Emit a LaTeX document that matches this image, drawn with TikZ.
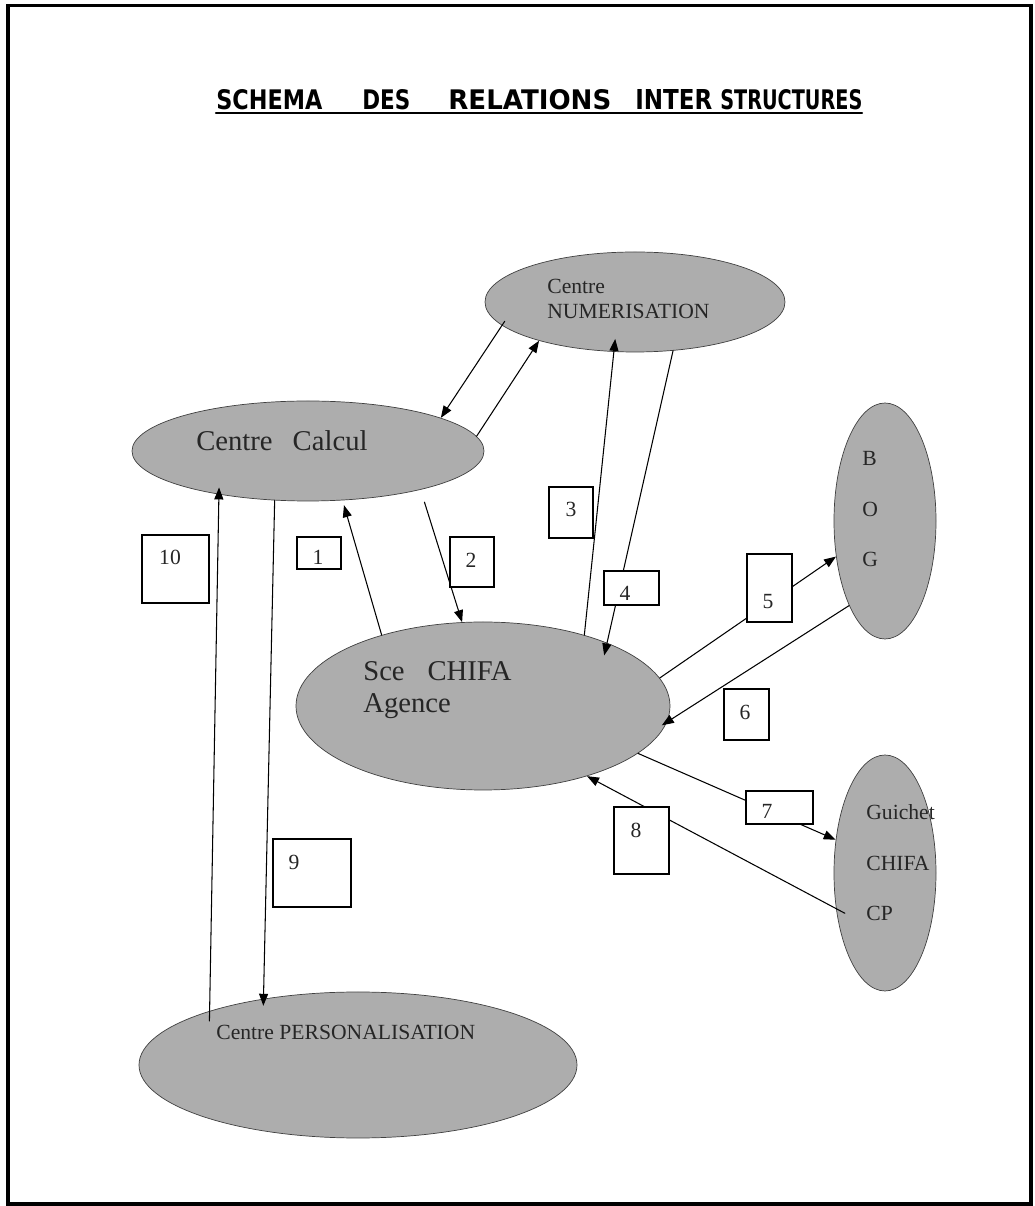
\documentclass[tikz,border=0pt]{standalone}
\usepackage{fontspec}
\setmainfont{Liberation Serif}
\newfontfamily\titlefont{DejaVu Sans}
\usepackage{tikz}
\usetikzlibrary{arrows.meta,shapes.geometric}

\begin{document}
\begin{tikzpicture}[>={Triangle[length=2.4mm,width=1.8mm]},line cap=round,
  zone/.style={ellipse,draw=black!75,fill=black!32,inner sep=0pt},
  numbox/.style={draw,fill=white,line width=0.7pt,inner sep=0pt},
  flux/.style={->,line width=0.6pt},
  big/.style={font=\fontsize{16.3}{18.7}\selectfont,text=black!85},
  small/.style={font=\fontsize{12.3}{14.7}\selectfont,text=black!85}]
\useasboundingbox (0,0) rectangle (20.7,24.12);
\draw[line width=2.2pt] (0.16,0.04) rectangle (20.62,24.01);
% titre
\node[anchor=base west,inner sep=0] (t1) at (4.32,21.93) {\resizebox{2.12cm}{0.40cm}{\titlefont\bfseries SCHEMA}};
\node[anchor=base west,inner sep=0] (t2) at (7.24,21.93) {\resizebox{0.96cm}{0.40cm}{\titlefont\bfseries DES}};
\node[anchor=base west,inner sep=0] (t3) at (8.96,21.93) {\resizebox{3.26cm}{0.40cm}{\titlefont\bfseries RELATIONS}};
\node[anchor=base west,inner sep=0] (t4) at (12.70,21.93) {\resizebox{1.54cm}{0.40cm}{\titlefont\bfseries INTER}};
\node[anchor=base west,inner sep=0] (t5) at (14.40,21.93) {\resizebox{2.84cm}{0.40cm}{\titlefont\bfseries STRUCTURES}};
\draw[line width=1.3pt] (4.32,21.86) -- (17.24,21.86);
% structures
\node[zone,minimum width=6cm,minimum height=2cm] (num) at (12.70,18.08) {};
\node[zone,minimum width=7.04cm,minimum height=2cm] (calcul) at (6.16,15.10) {};
\node[zone,minimum width=2.04cm,minimum height=4.72cm] (bog) at (17.70,13.70) {};
\node[zone,minimum width=7.48cm,minimum height=3.36cm] (sce) at (9.66,10.00) {};
\node[zone,minimum width=2.04cm,minimum height=4.72cm] (gui) at (17.70,6.66) {};
\node[zone,minimum width=8.76cm,minimum height=2.92cm] (perso) at (7.16,2.82) {};
\node[small,anchor=base west,align=left,inner sep=0] (tnum) at (10.94,17.74) {Centre\\NUMERISATION};
\node[big,anchor=base west,inner sep=0] (tcalcul) at (3.92,15.10) {Centre\hspace{0.7em}Calcul};
\node[small,anchor=base west,align=left,inner sep=0,font=\fontsize{12.3}{28.9}\selectfont] (tbog) at (17.24,12.78) {B\\O\\G};
\node[big,anchor=base west,align=left,inner sep=0] (tsce) at (7.26,9.86) {Sce\hspace{0.8em}CHIFA\\Agence};
\node[small,anchor=base west,align=left,inner sep=0,font=\fontsize{12.3}{28.9}\selectfont] (tgui) at (17.32,5.70) {Guichet\\CHIFA\\CP};
\node[small,anchor=base west,inner sep=0] (tperso) at (4.32,3.32) {Centre PERSONALISATION};
% flux
\draw[flux,shorten <=-0.1cm] (num.-170) -- (calcul.14);
\draw[flux] (calcul.5.5) -- (num.-158.6);
\draw[flux,shorten >=0.1cm] (sce.145) -- (calcul.-55);
\draw[flux,shorten <=0.26cm] (calcul.-19.7) -- (sce.104);
\draw[flux,shorten >=-0.26cm] (sce.35.4) -- (num.-113);
\draw[flux,shorten >=-0.26cm] (num.-52.7) -- (sce.27.7);
\draw[flux] (sce.9.7) -- (bog.-144.5);
\draw[flux,shorten >=-0.12cm] (bog.-113.2) -- (sce.-5);
\draw[flux] (sce.-17.3) -- (gui.146);
\draw[flux,shorten <=-0.2cm] (gui.-144.5) -- (sce.-34.5);
\draw[flux,shorten >=-0.14cm] (calcul.-124) -- (perso.145.2);
\draw[flux,shorten <=-0.2cm,shorten >=-0.14cm] (perso.160.7) -- (calcul.-154.2);
% numeros
\node[numbox,minimum width=0.88cm,minimum height=0.64cm] (b1) at (6.38,13.06) {};
\node[numbox,minimum width=1.34cm,minimum height=1.36cm] (b10) at (3.51,12.74) {};
\node[numbox,minimum width=1.56cm,minimum height=1.36cm] (b9) at (6.24,6.66) {};
\node[numbox,minimum width=0.88cm,minimum height=1.00cm] (b2) at (9.44,12.88) {};
\node[numbox,minimum width=0.88cm,minimum height=1.02cm] (b3) at (11.42,13.87) {};
\node[numbox,minimum width=1.10cm,minimum height=0.68cm] (b4) at (12.63,12.36) {};
\node[numbox,minimum width=0.90cm,minimum height=1.36cm] (b5) at (15.39,12.36) {};
\node[numbox,minimum width=0.90cm,minimum height=1.02cm] (b6) at (14.93,9.83) {};
\node[numbox,minimum width=1.34cm,minimum height=0.66cm] (b7) at (15.59,7.97) {};
\node[numbox,minimum width=1.10cm,minimum height=1.34cm] (b8) at (12.83,7.31) {};
\node[small] (n1) at (6.36,12.98) {1};
\node[small] (n10) at (3.40,12.98) {10};
\node[small] (n9) at (5.88,6.88) {9};
\node[small] (n2) at (9.42,12.92) {2};
\node[small] (n3) at (11.42,13.94) {3};
\node[small] (n4) at (12.50,12.26) {4};
\node[small] (n5) at (15.36,12.08) {5};
\node[small] (n6) at (14.90,9.88) {6};
\node[small] (n7) at (15.34,7.90) {7};
\node[small] (n8) at (12.72,7.52) {8};
\end{tikzpicture}
\end{document}
